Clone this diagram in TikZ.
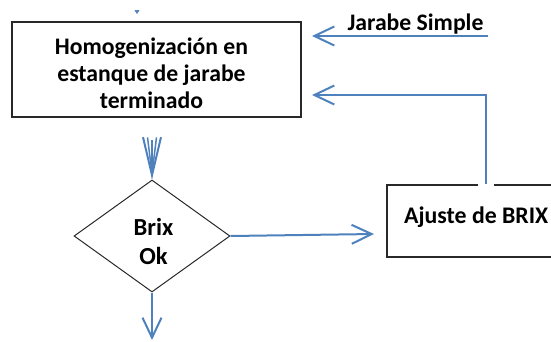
\documentclass[tikz,border=0pt]{standalone}
\usepackage{fontspec}
\setmainfont{Carlito}
\usetikzlibrary{arrows.meta,shapes.geometric}
\definecolor{flow}{RGB}{79,129,189}
\definecolor{edge}{RGB}{40,40,40}
\tikzset{
  procbox/.style={draw=edge,line width=2pt,rectangle,inner sep=0pt},
  decide/.style={draw=edge,line width=1pt,diamond,inner sep=0pt},
  flowline/.style={draw=flow,line width=2pt},
  barb/.style={-{Straight Barb[length=20pt,width=19pt,line width=2pt]}},
  lbl/.style={font=\bfseries\fontsize{23.7}{27}\selectfont,inner sep=0pt},
  brixlbl/.style={font=\bfseries\fontsize{24.5}{29}\selectfont,inner sep=0pt,align=center}
}
\begin{document}
\begin{tikzpicture}[x=1pt,y=-1pt]
\useasboundingbox (0,0) rectangle (551,341);
% top box
\node[procbox,minimum width=289pt,minimum height=95pt] (homog) at (156.5,69.5) {};
\node[lbl,align=center] (homogtxt) at (151.5,73) {Homogenización en\\estanque de jarabe\\terminado};
% diamond
\node[decide,minimum width=156pt,minimum height=112pt] (brix) at (152,236) {};
\node[brixlbl] (brixtxt) at (153.5,241) {Brix\\Ok};
% ajuste box
\node[procbox,minimum width=213pt,minimum height=72pt] (ajuste) at (493.5,221) {};
\node[lbl,anchor=base west,font=\bfseries\fontsize{23.8}{27}\selectfont] (ajustetxt) at (404,223) {Ajuste de BRIX};
% label Jarabe Simple
\node[lbl,anchor=base] (jarabe) at (415.5,30) {Jarabe Simple};
% coordinates
\coordinate (topinend) at (137,14);
\coordinate (jstart) at (488,36);
\coordinate (jend) at (312,36);
\coordinate (rturn) at (486,95);
\coordinate (rend) at (312,95);
\coordinate (dstart) at (152,140);
\coordinate (bend) at (152,340);
\coordinate (aend) at (374,234);
% tiny arrow at top
\draw[draw=flow,line width=0.5pt,-{Triangle[length=4pt,width=5pt]}] (137,11) -- (topinend);
% Jarabe Simple arrow
\draw[flowline,barb] (jstart) -- (jend);
% gap in ajuste top border
\draw[white,line width=3pt] (478,185) -- (494,185);
% return arrow
\draw[flowline,barb] (ajuste.north -| rturn) -- (rturn) -- (rend);
% double arrow into diamond
\draw[flowline,-{Straight Barb[length=38pt,width=18pt,line width=2pt]}] (dstart) -- (brix.north);
\draw[draw=flow,line width=1.5pt,-{Straight Barb[length=36pt,width=9pt,line width=1.5pt]}] (dstart) -- (brix.north);
% diamond to ajuste
\draw[flowline,barb] (brix.east) -- (aend);
% bottom arrow
\draw[flowline,barb] (brix.south) -- (bend);
\end{tikzpicture}
\end{document}
